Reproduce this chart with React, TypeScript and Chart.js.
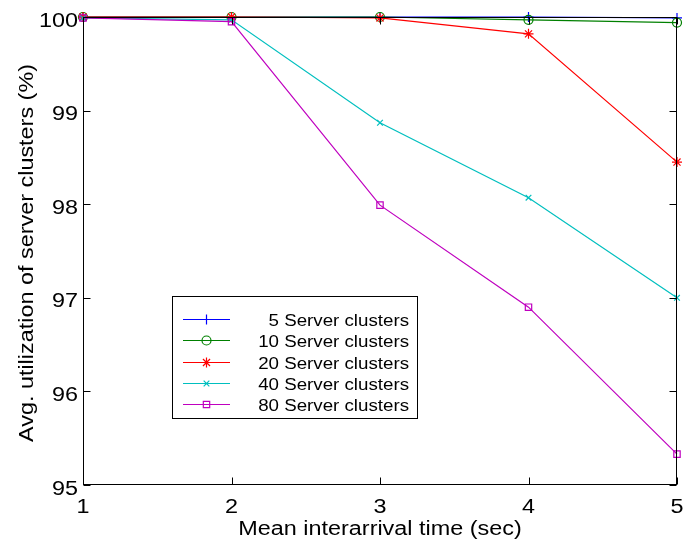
import React, { useEffect, useRef } from 'react';
import { Chart, registerables } from 'chart.js';

Chart.register(...registerables);

const FONT = '"Liberation Sans", Arial, Helvetica, sans-serif';

const xValues = [1, 2, 3, 4, 5];
const xTicks = [1, 2, 3, 4, 5];
const yTicks = [95, 96, 97, 98, 99, 100];
const seriesLabels = ['5 Server clusters', '10 Server clusters', '20 Server clusters', '40 Server clusters', '80 Server clusters'];
const s5 = [100, 100, 100, 100, 99.99];
const s10 = [100, 100, 100, 99.97, 99.94];
const s20 = [100, 100, 99.99, 99.82, 98.45];
const s40 = [99.99, 99.97, 98.87, 98.07, 97.0];
const s80 = [99.99, 99.95, 97.99, 96.9, 95.33];
const xTitle = 'Mean interarrival time (sec)';
const yTitle = 'Avg. utilization of server clusters (%)';

const colors = ['#0000ff', '#008000', '#ff0000', '#00bfbf', '#bf00bf'];
const pointStyles = ['cross', 'circle', 'star', 'crossRot', 'rect'];
const pointRadii = [5, 4.5, 5, 4, 4.5];

const SX = 1.17; // horizontal stretch of text

function stretchedText(ctx: CanvasRenderingContext2D, text: string, x: number, y: number, align: 'left' | 'right' | 'center') {
  ctx.save();
  ctx.translate(x, y);
  ctx.scale(SX, 1);
  ctx.textAlign = align;
  ctx.fillText(text, 0, 0);
  ctx.restore();
}

function marker(ctx: CanvasRenderingContext2D, style: string, r: number, x: number, y: number) {
  ctx.beginPath();
  if (style === 'cross') {
    ctx.moveTo(x - r, y); ctx.lineTo(x + r, y);
    ctx.moveTo(x, y - r); ctx.lineTo(x, y + r);
  } else if (style === 'crossRot') {
    const d = r * Math.SQRT1_2;
    ctx.moveTo(x - d, y - d); ctx.lineTo(x + d, y + d);
    ctx.moveTo(x - d, y + d); ctx.lineTo(x + d, y - d);
  } else if (style === 'star') {
    const d = r * Math.SQRT1_2;
    ctx.moveTo(x - r, y); ctx.lineTo(x + r, y);
    ctx.moveTo(x, y - r); ctx.lineTo(x, y + r);
    ctx.moveTo(x - d, y - d); ctx.lineTo(x + d, y + d);
    ctx.moveTo(x - d, y + d); ctx.lineTo(x + d, y - d);
  } else if (style === 'rect') {
    const d = r * Math.SQRT1_2;
    ctx.rect(x - d, y - d, 2 * d, 2 * d);
  } else {
    ctx.arc(x, y, r, 0, Math.PI * 2);
  }
  ctx.stroke();
}

const frameLegendPlugin = {
  id: 'frameLegend',
  afterDraw(chart: any) {
    const { ctx, chartArea } = chart;
    const { left, right, top, bottom } = chartArea;
    const xs = chart.scales.x;
    const ys = chart.scales.y;
    ctx.save();
    ctx.beginPath();
    ctx.strokeStyle = '#000';
    ctx.lineWidth = 1;
    const L = Math.round(left) + 0.5, R = Math.round(right) - 0.5, T = Math.round(top) + 0.5, B = Math.round(bottom) - 0.5;
    ctx.strokeRect(L, T, R - L, B - T);
    const tl = 7;
    ctx.beginPath();
    xTicks.forEach((v) => {
      const px = Math.round(xs.getPixelForValue(v)) + 0.5;
      ctx.moveTo(px, B); ctx.lineTo(px, B - tl);
      ctx.moveTo(px, T); ctx.lineTo(px, T + tl);
    });
    yTicks.forEach((v) => {
      const py = Math.round(ys.getPixelForValue(v)) + 0.5;
      ctx.moveTo(L, py); ctx.lineTo(L + tl, py);
      ctx.moveTo(R, py); ctx.lineTo(R - tl, py);
    });
    ctx.stroke();

    // tick labels
    ctx.fillStyle = '#000';
    ctx.font = `20px ${FONT}`;
    ctx.textBaseline = 'alphabetic';
    xTicks.forEach((v) => {
      stretchedText(ctx, String(v), xs.getPixelForValue(v), 513, 'center');
    });
    yTicks.forEach((v) => {
      stretchedText(ctx, String(v), 78, ys.getPixelForValue(v) + 9.5, 'right');
    });

    // axis titles
    stretchedText(ctx, xTitle, (left + right) / 2, 535, 'center');
    ctx.save();
    ctx.translate(32.5, 253);
    ctx.rotate(-Math.PI / 2);
    stretchedText(ctx, yTitle, 0, 0, 'center');
    ctx.restore();

    // legend
    const bx = 172.5, by = 296.5, bw = 245, bh = 122;
    ctx.fillStyle = '#fff';
    ctx.fillRect(bx, by, bw, bh);
    ctx.strokeStyle = '#000';
    ctx.strokeRect(bx, by, bw, bh);
    ctx.font = `16px ${FONT}`;
    chart.data.datasets.forEach((ds: any, i: number) => {
      const ry = Math.round(319 + i * 21.3) + 0.5;
      ctx.strokeStyle = ds.borderColor;
      ctx.lineWidth = 1.2;
      ctx.beginPath();
      ctx.moveTo(183, ry);
      ctx.lineTo(230, ry);
      ctx.stroke();
      marker(ctx, ds.pointStyle, ds.pointRadius, 206.5, ry);
      ctx.fillStyle = '#000';
      stretchedText(ctx, ds.label, 409, ry + 6, 'right');
    });
    ctx.restore();
  },
};

export default function App() {
  const ref = useRef<HTMLCanvasElement | null>(null);
  useEffect(() => {
    if (!ref.current) return;
    const allSeries = [s5, s10, s20, s40, s80];
    const chart = new Chart(ref.current, {
      type: 'line',
      data: {
        datasets: allSeries.map((s, i) => ({
          label: seriesLabels[i],
          data: s.map((v, j) => ({ x: xValues[j], y: v })),
          borderColor: colors[i],
          backgroundColor: colors[i],
          pointBorderColor: colors[i],
          pointBackgroundColor: 'rgba(0,0,0,0)',
          pointStyle: pointStyles[i] as any,
          pointRadius: pointRadii[i],
          pointBorderWidth: 1.2,
          borderWidth: 1.2,
          fill: false,
          tension: 0,
          clip: 10 as any,
          order: 5 - i,
        })),
      },
      options: {
        animation: false,
        responsive: false,
        devicePixelRatio: 1,
        events: [],
        layout: { padding: { top: 17, right: 7, left: 0, bottom: 0 } },
        plugins: { legend: { display: false }, tooltip: { enabled: false }, title: { display: false } },
        scales: {
          x: {
            type: 'linear',
            min: 1,
            max: 5,
            grid: { display: false, drawTicks: false },
            border: { display: false },
            afterFit: (s: any) => { s.height = 58; },
            afterBuildTicks: (s: any) => { s.ticks = xTicks.map((v) => ({ value: v })); },
            ticks: { display: false },
          },
          y: {
            type: 'linear',
            min: 95,
            max: 100,
            grid: { display: false, drawTicks: false },
            border: { display: false },
            afterFit: (s: any) => { s.width = 83; },
            afterBuildTicks: (s: any) => { s.ticks = yTicks.map((v) => ({ value: v })); },
            ticks: { display: false },
          },
        },
      },
      plugins: [frameLegendPlugin],
    });
    return () => chart.destroy();
  }, []);
  return (
    <div style={{ position: 'absolute', left: 0, top: 0, width: 684, height: 543, background: '#fff' }}>
      <canvas ref={ref} width={684} height={543} style={{ width: 684, height: 543, display: 'block' }} />
    </div>
  );
}
